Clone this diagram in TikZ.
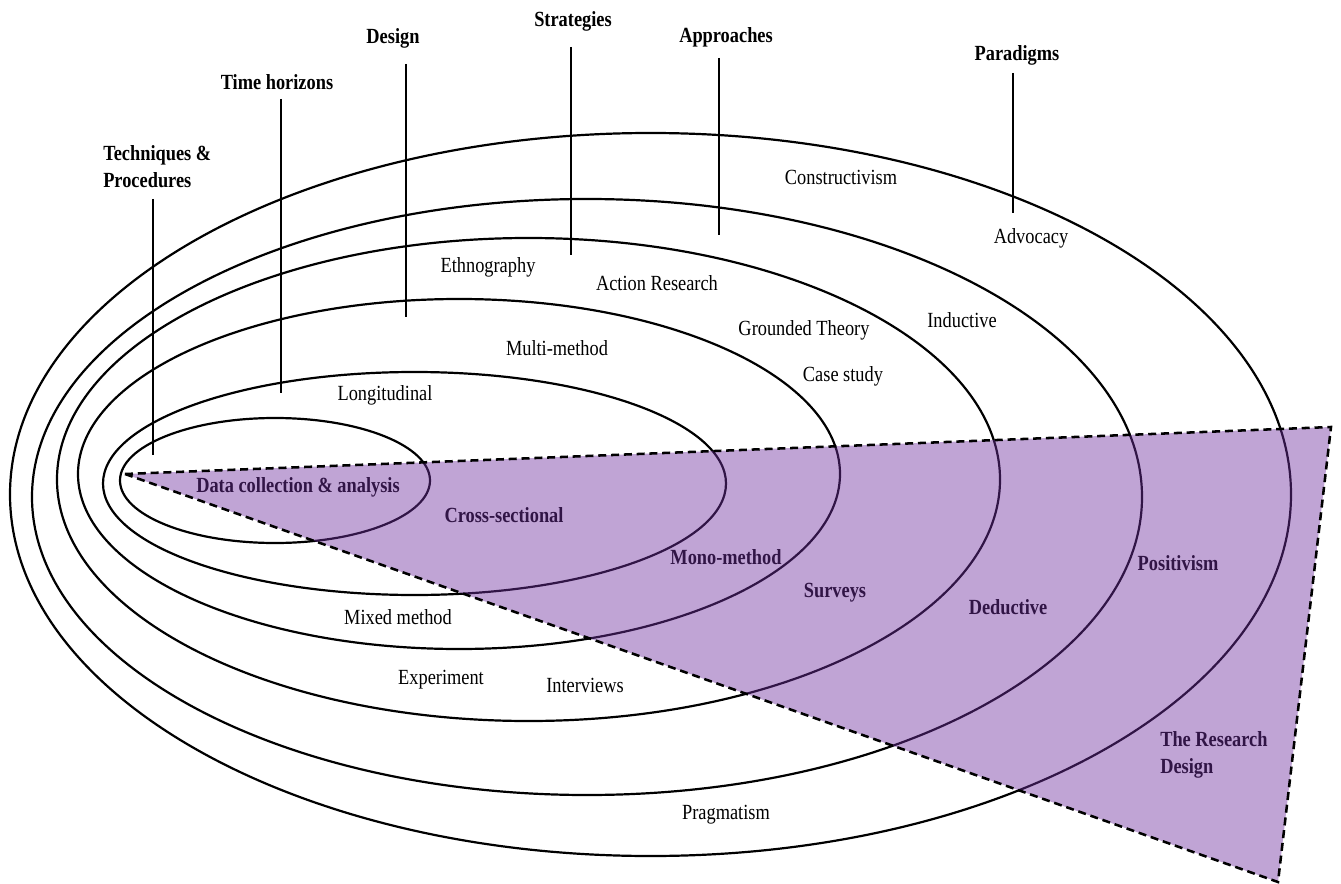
\documentclass[tikz,border=0pt]{standalone}
\usepackage{fontspec}
\setmainfont{Liberation Serif}[FakeStretch=0.85]
\definecolor{overlaypurple}{HTML}{7030A0}
\begin{document}
\begin{tikzpicture}[x=0.75pt,y=-0.75pt,
  ring/.style={line width=1.65pt},
  pointer/.style={line width=1.65pt},
  lbl/.style={font=\fontsize{16.2}{20.2}\selectfont, inner sep=0pt, align=center},
  head/.style={font=\fontsize{16.2}{20.2}\selectfont\bfseries, inner sep=0pt, align=center},
  inner/.style={font=\fontsize{16.2}{20.2}\selectfont\bfseries, inner sep=0pt, align=center},
  wedge/.style={fill=overlaypurple, fill opacity=0.44},
  wedgeedge/.style={line width=1.9pt, dash pattern=on 6pt off 3.6pt}
]
\useasboundingbox (0,0) rectangle (1341,884);

% the six layers of the onion
\draw[ring] (650.5,494.5) ellipse [x radius=640.5, y radius=361.5];
\draw[ring] (587,497)     ellipse [x radius=555,   y radius=298];
\draw[ring] (528.5,479.5) ellipse [x radius=471.5, y radius=241.5];
\draw[ring] (459,474)     ellipse [x radius=381,   y radius=175];
\draw[ring] (414.5,483.5) ellipse [x radius=311.5, y radius=111.5];
\draw[ring] (275,480.5)   ellipse [x radius=155,   y radius=62.5];

% layer headings with their pointers
\node[head, anchor=west, align=left] (tech) at (103,167) {Techniques \&\\Procedures};
\node[head] (time)  at (277,82)  {Time horizons};
\node[head] (design) at (393,38) {Design};
\node[head] (strat) at (573,21)  {Strategies};
\node[head] (appr)  at (726,37)  {Approaches};
\node[head] (para)  at (1017,55) {Paradigms};

\coordinate (tech-a) at (153,199);  \coordinate (tech-b) at (153,455);
\coordinate (time-a) at (281,99);   \coordinate (time-b) at (281,393);
\coordinate (des-a)  at (406,64);   \coordinate (des-b)  at (406,317);
\coordinate (str-a)  at (571,47);   \coordinate (str-b)  at (571,255);
\coordinate (app-a)  at (719,58);   \coordinate (app-b)  at (719,235);
\coordinate (par-a)  at (1013,73);  \coordinate (par-b)  at (1013,213);
\draw[pointer] (tech-a) -- (tech-b);
\draw[pointer] (time-a) -- (time-b);
\draw[pointer] (des-a) -- (des-b);
\draw[pointer] (str-a) -- (str-b);
\draw[pointer] (app-a) -- (app-b);
\draw[pointer] (par-a) -- (par-b);

% options within the layers
\node[lbl] (constr) at (841,177) {Constructivism};
\node[lbl] (advoc)  at (1031,238) {Advocacy};
\node[lbl] (ethno)  at (488,267) {Ethnography};
\node[lbl] (action) at (657,283) {Action Research};
\node[lbl] (ground) at (804,330) {Grounded Theory};
\node[lbl] (case)   at (843,376) {Case study};
\node[lbl] (induct) at (962,320) {Inductive};
\node[lbl] (multi)  at (557,348) {Multi-method};
\node[lbl] (longi)  at (385,395) {Longitudinal};
\node[lbl] (mixed)  at (398,617) {Mixed method};
\node[lbl] (exper)  at (441,680) {Experiment};
\node[lbl] (interv) at (585,685) {Interviews};
\node[lbl] (prag)   at (726,815) {Pragmatism};

\node[inner] (data)   at (298,487) {Data collection \& analysis};
\node[inner] (cross)  at (504,515) {Cross-sectional};
\node[inner] (mono)   at (726,557) {Mono-method};
\node[inner] (survey) at (835,593) {Surveys};
\node[inner] (deduct) at (1008,607) {Deductive};
\node[inner] (posit)  at (1178,563) {Positivism};
\node[inner, anchor=west, align=left] (design2) at (1160,755) {The Research\\Design};

% the research design wedge laid over the onion
\coordinate (apex) at (125,474);
\coordinate (tr)   at (1331,427);
\coordinate (br)   at (1278,882);
\fill[wedge] (apex) -- (tr) -- (br) -- cycle;
\draw[wedgeedge] (apex) -- (tr) -- (br) -- cycle;
\end{tikzpicture}
\end{document}
